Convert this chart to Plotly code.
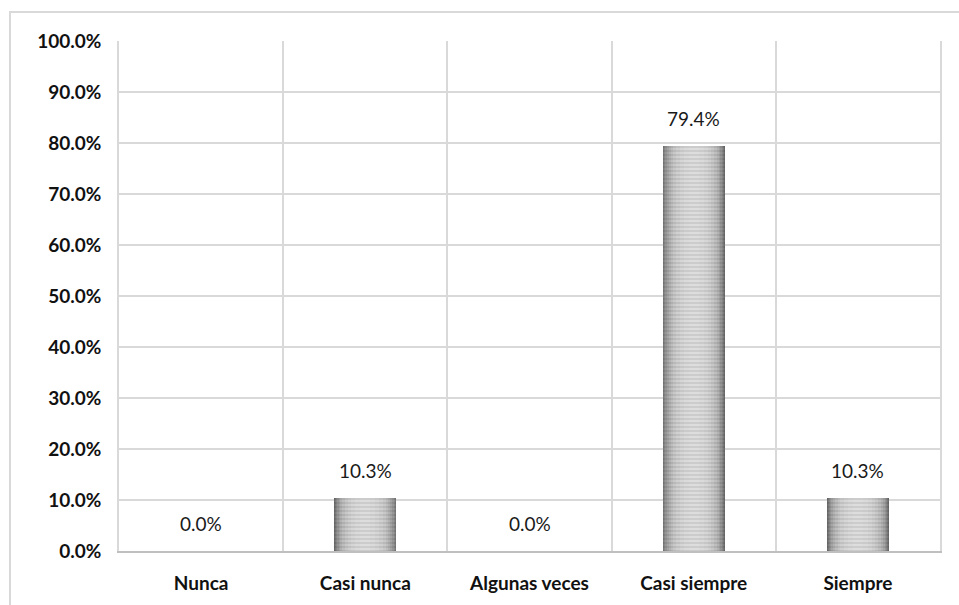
import plotly.graph_objects as go

# Survey response distribution
categories = ["Nunca", "Casi nunca", "Algunas veces", "Casi siempre", "Siempre"]
shares = [0.0, 0.103, 0.0, 0.794, 0.103]
y_ticks = [0.0, 0.1, 0.2, 0.3, 0.4, 0.5, 0.6, 0.7, 0.8, 0.9, 1.0]

FONT = "Lato"
GRID = "#d9d9d9"

# Layered bars of decreasing width give the cylinder-like shading:
# darker at the edges, lighter towards the centre, with fine horizontal stripes.
shade_layers = [
    (0.378, "#6c6c6c", "#585858"),
    (0.370, "#7a7a7a", "#636363"),
    (0.358, "#898989", "#707070"),
    (0.344, "#979797", "#7c7c7c"),
    (0.326, "#a5a5a5", "#888888"),
    (0.304, "#b2b2b2", "#939393"),
    (0.278, "#bebebe", "#9e9e9e"),
    (0.248, "#c8c8c8", "#a7a7a7"),
    (0.212, "#d0d0d0", "#aeaeae"),
    (0.170, "#d6d6d6", "#b3b3b3"),
    (0.120, "#dadada", "#b7b7b7"),
    (0.060, "#dddddd", "#b9b9b9"),
]

fig = go.Figure()
for w, bg, fg in shade_layers:
    fig.add_trace(go.Bar(
        x=categories,
        y=shares,
        width=w,
        marker=dict(
            color=bg,
            line=dict(width=0),
            pattern=dict(shape="-", fgcolor=fg, bgcolor=bg, size=4, solidity=0.45),
        ),
        hoverinfo="skip",
        showlegend=False,
    ))

# empty trace that activates the overlay axis carrying the category separators
fig.add_trace(go.Scatter(x=[], y=[], xaxis="x2", showlegend=False, hoverinfo="skip"))

annotations = [
    dict(
        x=c, y=v, xref="x", yref="y",
        text=f"{v * 100:.1f}%",
        showarrow=False, yanchor="bottom", yshift=14,
        font=dict(family=FONT, size=19, color="#1a1a1a"),
    )
    for c, v in zip(categories, shares)
]

fig.update_layout(
    width=959, height=605,
    margin=dict(l=119, r=19, t=41, b=54),
    paper_bgcolor="white",
    plot_bgcolor="white",
    barmode="overlay",
    bargap=0,
    annotations=annotations,
    xaxis=dict(
        type="category",
        range=[-0.5, 4.5],
        showgrid=False,
        showline=True, linecolor="#bfbfbf", linewidth=2,
        ticks="", ticklabelstandoff=14,
        tickfont=dict(family=FONT, size=19, color="#111111", weight="bold"),
        fixedrange=True,
    ),
    xaxis2=dict(
        overlaying="x",
        range=[-0.5, 4.5],
        tick0=-0.5, dtick=1,
        showgrid=True, gridcolor=GRID, gridwidth=1.5,
        showticklabels=False, showline=False, zeroline=False,
        fixedrange=True,
    ),
    yaxis=dict(
        range=[0, 1],
        tickvals=y_ticks,
        tickformat=".1%",
        showgrid=True, gridcolor=GRID, gridwidth=1.5,
        showline=True, mirror=True, linecolor=GRID, linewidth=1.5,
        zeroline=False,
        ticks="", ticklabelstandoff=12,
        tickfont=dict(family=FONT, size=19, color="#111111", weight="bold"),
        fixedrange=True,
    ),
    shapes=[
        # outer chart frame
        dict(
            type="rect", xref="paper", yref="paper",
            x0=(10 - 119) / 821, x1=1 + (980 - 940) / 821,
            y0=-(640 - 551) / 510, y1=1 + (41 - 12) / 510,
            line=dict(color="#d9d9d9", width=2),
            fillcolor="rgba(0,0,0,0)",
            layer="below",
        )
    ],
)

fig.write_html("out.html")
